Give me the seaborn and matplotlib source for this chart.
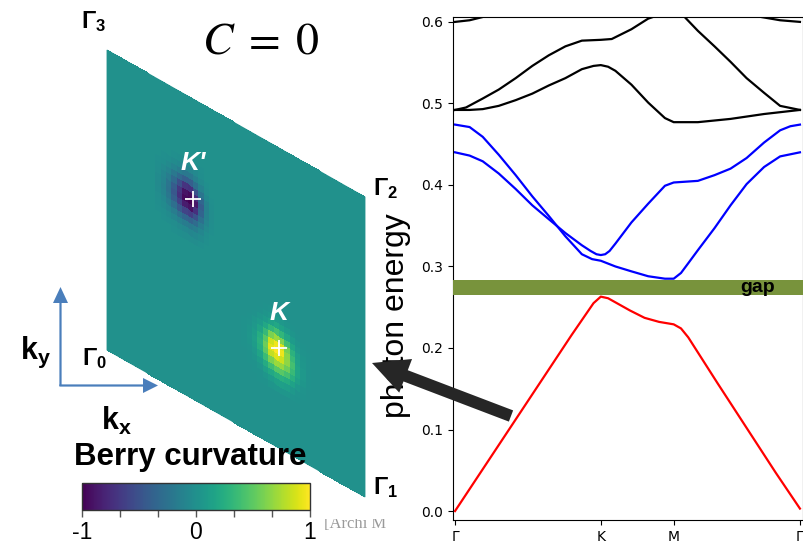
import numpy as np
import pandas as pd
import matplotlib
matplotlib.use("Agg")
import matplotlib.pyplot as plt
import seaborn as sns
from matplotlib.patches import FancyArrow, Polygon
from matplotlib.transforms import Bbox

# ---------------- data: photonic band structure ----------------
K_RED = [0, 0.2, 0.4, 0.6, 0.8, 0.9, 0.95, 1.0, 1.05, 1.1, 1.2, 1.3, 1.4, 1.5, 1.55, 1.6, 1.8, 2.0, 2.2, 2.366]
E_RED = [0, 0.054, 0.108, 0.162, 0.216, 0.242, 0.255, 0.263, 0.261, 0.256, 0.246, 0.237, 0.232, 0.229, 0.224, 0.213, 0.157, 0.102, 0.047, 0.003]

K_BLUE_A = [0, 0.1, 0.19, 0.30, 0.416, 0.53, 0.643, 0.757, 0.87, 0.94, 1.0, 1.1, 1.21, 1.325, 1.44, 1.5, 1.55, 1.6, 1.666, 1.78, 1.89, 2.0, 2.12, 2.23, 2.366]
E_BLUE_A = [0.474, 0.471, 0.459, 0.437, 0.412, 0.386, 0.362, 0.337, 0.315, 0.309, 0.307, 0.300, 0.294, 0.288, 0.285, 0.285, 0.292, 0.304, 0.320, 0.347, 0.375, 0.401, 0.422, 0.435, 0.440]

K_BLUE_B = [0, 0.1, 0.19, 0.30, 0.416, 0.53, 0.643, 0.757, 0.87, 0.93, 0.97, 1.0, 1.03, 1.06, 1.1, 1.21, 1.325, 1.44, 1.5, 1.666, 1.78, 1.89, 2.0, 2.12, 2.23, 2.30, 2.366]
E_BLUE_B = [0.440, 0.436, 0.429, 0.414, 0.395, 0.375, 0.358, 0.341, 0.326, 0.319, 0.315, 0.314, 0.315, 0.319, 0.328, 0.354, 0.377, 0.399, 0.403, 0.405, 0.412, 0.420, 0.433, 0.452, 0.467, 0.472, 0.474]

K_BLACK_1 = [0, 0.1, 0.19, 0.30, 0.416, 0.53, 0.643, 0.757, 0.87, 0.95, 1.0, 1.05, 1.1, 1.21, 1.325, 1.44, 1.5, 1.666, 1.89, 2.12, 2.366]
E_BLACK_1 = [0.492, 0.492, 0.493, 0.497, 0.504, 0.512, 0.522, 0.531, 0.542, 0.546, 0.547, 0.545, 0.540, 0.523, 0.501, 0.482, 0.477, 0.477, 0.481, 0.487, 0.492]

K_BLACK_2 = [0, 0.075, 0.19, 0.30, 0.416, 0.53, 0.643, 0.757, 0.87, 1.0, 1.075, 1.21, 1.325, 1.39, 1.5, 1.575, 1.666, 1.78, 1.89, 2.0, 2.12, 2.23, 2.366]
E_BLACK_2 = [0.492, 0.495, 0.506, 0.517, 0.531, 0.546, 0.559, 0.570, 0.577, 0.578, 0.579, 0.591, 0.604, 0.608, 0.612, 0.606, 0.589, 0.570, 0.551, 0.531, 0.513, 0.497, 0.492]

K_BLACK_3 = [0, 0.1, 0.19, 0.3, 1.2, 2.0, 2.1, 2.23, 2.366]
E_BLACK_3 = [0.600, 0.602, 0.606, 0.612, 0.640, 0.612, 0.606, 0.602, 0.600]

GAP_LOW, GAP_HIGH = 0.265, 0.283
K_POINTS = [0, 1.0, 1.5, 2.366]
K_LABELS = ["Γ", "K", "M", "Γ"]
Y_TICKS = [0.0, 0.1, 0.2, 0.3, 0.4, 0.5, 0.6]

N_GRID = 48
K_PATCH = [
    [0, 0, 0, 0, 0.01, 0.03, 0.04, 0.03, 0.01, 0, 0, 0, 0],
    [0, 0, 0, 0.02, 0.04, 0.07, 0.09, 0.07, 0.04, 0.02, 0, 0, 0],
    [0, 0, 0.02, 0.05, 0.09, 0.15, 0.19, 0.15, 0.09, 0.04, 0.01, 0, 0],
    [0, 0.02, 0.05, 0.09, 0.19, 0.32, 0.40, 0.32, 0.19, 0.09, 0.04, 0.01, 0],
    [0.01, 0.03, 0.07, 0.16, 0.34, 0.60, 0.70, 0.62, 0.38, 0.18, 0.07, 0.03, 0.01],
    [0.02, 0.04, 0.10, 0.24, 0.48, 0.85, 0.95, 0.90, 0.58, 0.28, 0.11, 0.04, 0.01],
    [0.02, 0.05, 0.11, 0.27, 0.55, 0.92, 1.00, 0.95, 0.65, 0.35, 0.14, 0.05, 0.02],
    [0.02, 0.04, 0.10, 0.24, 0.50, 0.82, 0.90, 0.85, 0.66, 0.40, 0.17, 0.07, 0.02],
    [0.01, 0.03, 0.07, 0.17, 0.36, 0.60, 0.70, 0.68, 0.55, 0.35, 0.17, 0.07, 0.02],
    [0, 0.02, 0.04, 0.10, 0.22, 0.38, 0.48, 0.48, 0.40, 0.26, 0.12, 0.05, 0.01],
    [0, 0.01, 0.02, 0.05, 0.12, 0.20, 0.26, 0.27, 0.23, 0.15, 0.07, 0.03, 0],
    [0, 0, 0.01, 0.02, 0.05, 0.09, 0.12, 0.13, 0.11, 0.07, 0.03, 0.01, 0],
    [0, 0, 0, 0.01, 0.02, 0.04, 0.05, 0.05, 0.05, 0.03, 0.01, 0, 0],
]
KP_PATCH = [
    [0, 0, 0, -0.01, -0.02, -0.03, -0.03, -0.02, -0.01, 0, 0, 0, 0],
    [0, -0.01, -0.02, -0.04, -0.07, -0.09, -0.09, -0.06, -0.02, 0, 0, 0, 0],
    [-0.01, -0.02, -0.05, -0.10, -0.16, -0.20, -0.20, -0.13, -0.05, -0.01, 0, 0, 0],
    [-0.02, -0.05, -0.10, -0.20, -0.32, -0.40, -0.40, -0.27, -0.11, -0.03, 0, 0, 0],
    [-0.03, -0.08, -0.16, -0.32, -0.52, -0.70, -0.72, -0.50, -0.22, -0.07, -0.01, 0, 0],
    [-0.04, -0.10, -0.22, -0.42, -0.68, -0.90, -0.95, -0.75, -0.35, -0.11, -0.02, 0, 0],
    [-0.05, -0.11, -0.24, -0.46, -0.72, -0.95, -1.00, -0.88, -0.42, -0.13, -0.03, 0, 0],
    [-0.04, -0.10, -0.21, -0.40, -0.62, -0.85, -0.90, -0.72, -0.36, -0.12, -0.03, 0, 0],
    [-0.03, -0.07, -0.15, -0.28, -0.45, -0.60, -0.64, -0.50, -0.26, -0.09, -0.02, 0, 0],
    [-0.02, -0.04, -0.08, -0.16, -0.26, -0.35, -0.37, -0.30, -0.16, -0.05, -0.01, 0, 0],
    [-0.01, -0.02, -0.04, -0.08, -0.13, -0.17, -0.18, -0.15, -0.08, -0.02, 0, 0, 0],
    [0, -0.01, -0.02, -0.03, -0.05, -0.07, -0.08, -0.07, -0.04, -0.01, 0, 0, 0],
    [0, 0, 0, -0.01, -0.02, -0.03, -0.03, -0.03, -0.01, 0, 0, 0, 0],
]
K_POS = (2 / 3, 1 / 3)      # (u, v) lattice coordinates of K
KP_POS = (1 / 3, 2 / 3)     # K'
CB_TICKS = [-1, -2 / 3, -1 / 3, 0, 1 / 3, 2 / 3, 1]
CB_LABELS = ["-1", "", "", "0", "", "", "1"]

# ---------------- figure ----------------
W, H = 804, 546
fig = plt.figure(figsize=(W / 100, H / 100), dpi=100)
plt.rcParams["mathtext.fontset"] = "custom"
plt.rcParams["mathtext.bf"] = "Liberation Sans:bold"
plt.rcParams["mathtext.rm"] = "Liberation Sans"
plt.rcParams["mathtext.it"] = "Liberation Sans:italic"

# band axes (pixel box: left 453, right 803, top 17, bottom 520)
axL, axR, axT, axB = 453, 803, 17, 520
ax = fig.add_axes([axL / W, 1 - axB / H, (axR - axL) / W, (axB - axT) / H])

frames = []
for name, ks, es in [("red", K_RED, E_RED), ("blueA", K_BLUE_A, E_BLUE_A), ("blueB", K_BLUE_B, E_BLUE_B),
                     ("black1", K_BLACK_1, E_BLACK_1), ("black2", K_BLACK_2, E_BLACK_2),
                     ("black3", K_BLACK_3, E_BLACK_3)]:
    frames.append(pd.DataFrame({"k": ks, "E": es, "band": name}))
df = pd.concat(frames, ignore_index=True)
palette = {"red": "#ff0000", "blueA": "#0000ff", "blueB": "#0000ff",
           "black1": "black", "black2": "black", "black3": "black"}
sns.lineplot(data=df, x="k", y="E", hue="band", palette=palette, estimator=None,
             sort=False, legend=False, linewidth=1.6, ax=ax)
ax.axhspan(GAP_LOW, GAP_HIGH, color="#78933c", lw=0, zorder=3)
ax.text(2.075, 0.2685, "gap", fontsize=14, fontweight="bold", family="Liberation Sans",
        ha="center", va="baseline", zorder=4)
ax.set_xlim(-0.014, 2.387)
ax.set_ylim(-0.011, 0.606)
ax.set_xticks(K_POINTS)
ax.set_xticklabels(K_LABELS)
ax.set_yticks(Y_TICKS)
ax.set_yticklabels([f"{t:.1f}" for t in Y_TICKS])
ax.set_xlabel("")
ax.set_ylabel("")
ax.tick_params(labelsize=10)
fig.text(396 / W, 1 - 316 / H, "photon energy", rotation=90, fontsize=23,
         family="Liberation Sans", ha="center", va="center")

# overlay axes in pixel coordinates
ov = fig.add_axes([0, 0, 1, 1], zorder=5)
ov.set_xlim(0, W)
ov.set_ylim(H, 0)
ov.axis("off")
ov.patch.set_alpha(0)

# Berry curvature map on the sheared Brillouin-zone cell
G0 = np.array([107.0, 350.0])
G1 = np.array([365.0, 497.0])
G3 = np.array([107.0, 50.0])
uu, vv = np.meshgrid(np.linspace(0, 1, N_GRID + 1), np.linspace(0, 1, N_GRID + 1))
X = G0[0] + uu * (G1[0] - G0[0]) + vv * (G3[0] - G0[0])
Y = G0[1] + uu * (G1[1] - G0[1]) + vv * (G3[1] - G0[1])
Z = np.zeros((N_GRID, N_GRID))
for patch, (pu, pv) in [(K_PATCH, K_POS), (KP_PATCH, KP_POS)]:
    p = np.array(patch)[::-1]          # rows listed top (high v) to bottom
    ci, cj = int(pv * N_GRID - 0.5), int(pu * N_GRID - 0.5)
    h = p.shape[0] // 2
    Z[ci - h:ci + h + 1, cj - h:cj + h + 1] = p
mesh = ov.pcolormesh(X, Y, Z, cmap="viridis", vmin=-1, vmax=1, shading="flat",
                     antialiased=False, linewidth=0)
teal = plt.get_cmap("viridis")(0.5)
G2 = G1 + G3 - G0
ov.add_patch(Polygon([G0, G1, G2, G3], closed=True, fill=False, edgecolor=teal, lw=0.6))

def to_px(u, v):
    return G0 + u * (G1 - G0) + v * (G3 - G0)

for (u, v), lab, off in [(K_POS, "K", -35), (KP_POS, "K'", -36)]:
    px = to_px(u, v)
    ov.plot([px[0]], [px[1]], marker="+", color="white", markersize=12, mew=1.3, ls="none")
    ov.text(px[0], px[1] + off, lab, color="white", fontsize=19, fontweight="bold",
            fontstyle="italic", family="Liberation Sans", ha="center", va="center")

# corner labels
for (x, y), s in [((94, 22), r"$\mathbf{\Gamma_3}$"), ((386, 189), r"$\mathbf{\Gamma_2}$"),
                  ((386, 488), r"$\mathbf{\Gamma_1}$"), ((94, 359), r"$\mathbf{\Gamma_0}$")]:
    ov.text(x, y, s, fontsize=17, ha="center", va="center")

ov.text(261, 41, r"$C\;=\;0$", fontsize=33, math_fontfamily="stix", ha="center", va="center")

# k-axes arrows
blue = "#4a7ebb"
ov.add_patch(FancyArrow(60.5, 386, 0, -99, width=2.2, head_width=15, head_length=16,
                        length_includes_head=True, color=blue, lw=0))
ov.add_patch(FancyArrow(59.4, 385.5, 98.6, 0, width=2.2, head_width=15, head_length=15,
                        length_includes_head=True, color=blue, lw=0))
ov.text(36, 352, r"$\mathbf{k_y}$", fontsize=22, ha="center", va="center")
ov.text(116, 421, r"$\mathbf{k_x}$", fontsize=22, ha="center", va="center")

# colorbar
ov.text(190, 457, "Berry curvature", fontsize=22.5, fontweight="bold", family="Liberation Sans",
        ha="center", va="center")
cax = fig.add_axes([82 / W, 1 - 510 / H, 228 / W, 27 / H], zorder=6)
cb = fig.colorbar(mesh, cax=cax, orientation="horizontal")
cb.set_ticks(CB_TICKS)
cb.set_ticklabels(CB_LABELS)
cb.outline.set_linewidth(1.0)
cb.outline.set_edgecolor("#333333")
cax.tick_params(length=5, width=1, color="#555555", labelsize=16.5, pad=3)
for t in cax.get_xticklabels():
    t.set_family("Liberation Sans")

# big black arrow
ov.add_patch(FancyArrow(511, 416, -139, -53, width=12, head_width=36, head_length=36,
                        length_includes_head=True, color="#262626", lw=0, zorder=10))

# faint clipped citation text
t = ov.text(324, 528, "[Archi M", fontsize=12, family="Liberation Serif", color="#9a9a9a",
            ha="left", va="baseline")
t.set_clip_box(Bbox([[318, 0], [410, 27]]))
t.set_clip_on(True)

fig.savefig("out.png", dpi=100)
